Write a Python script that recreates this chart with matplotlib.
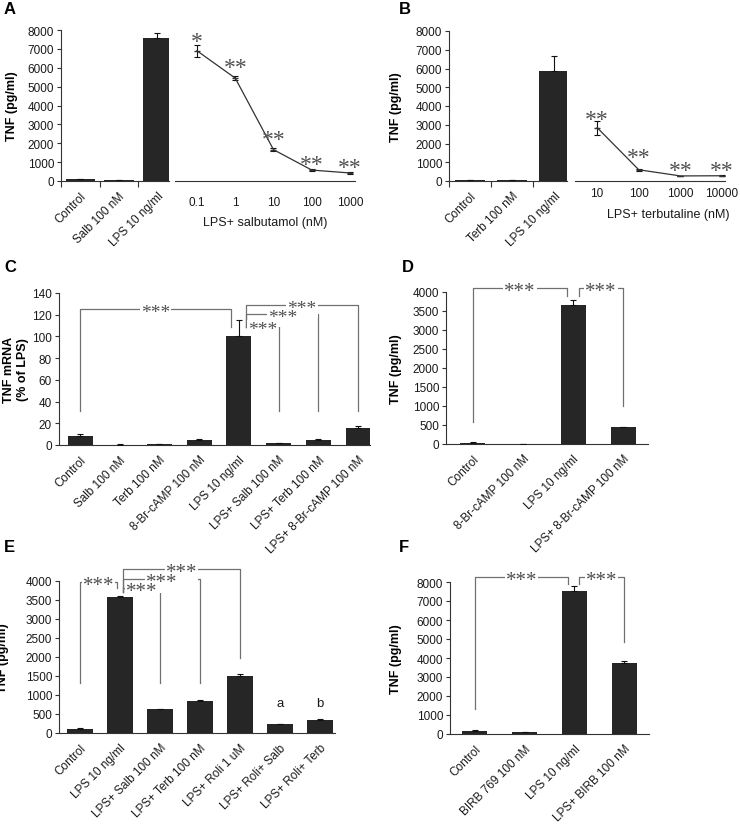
import numpy as np
import matplotlib
matplotlib.use("Agg")
import matplotlib.pyplot as plt

plt.rcParams['font.family'] = ['Liberation Sans', 'DejaVu Sans']
plt.rcParams['font.size'] = 8.5

# ---- panel A ----
a_bar_labels = ["Control", "Salb 100 nM", "LPS 10 ng/ml"]
a_bar_vals = [80, 50, 7550]
a_bar_err = [10, 5, 280]
a_conc = [0.1, 1, 10, 100, 1000]
a_line_vals = [6900, 5450, 1660, 580, 424]
a_line_err = [330, 120, 80, 40, 30]
a_stars = ["*", "**", "**", "**", "**"]
a_star_y = [7600, 6200, 2400, 1060, 900]

# ---- panel B ----
b_bar_labels = ["Control", "Terb 100 nM", "LPS 10 ng/ml"]
b_bar_vals = [70, 40, 5850]
b_bar_err = [10, 5, 800]
b_conc = [10, 100, 1000, 10000]
b_line_vals = [2850, 600, 270, 280]
b_line_err = [370, 40, 20, 20]
b_stars = ["**", "**", "**", "**"]
b_star_y = [3470, 1440, 750, 750]

# ---- panel C ----
c_labels = ["Control", "Salb 100 nM", "Terb 100 nM", "8-Br-cAMP 100 nM",
            "LPS 10 ng/ml", "LPS+ Salb 100 nM", "LPS+ Terb 100 nM",
            "LPS+ 8-Br-cAMP 100 nM"]
c_vals = [8, 0.3, 0.5, 4.5, 100, 1.5, 4.5, 15.5]
c_err = [2.2, 0.2, 0.2, 0.6, 15, 0.3, 0.7, 1.8]
# (x1, y1 bottom, x2, y2 bottom, y top)
c_brackets = [(0, 31, 3.8, 108.7, 125), (4.18, 108.7, 7.0, 31, 129),
              (4.18, 108.7, 6.0, 31, 120.7), (4.18, 108.7, 5.0, 31, 109.6)]

# ---- panel D ----
d_labels = ["Control", "8-Br-cAMP 100 nM", "LPS 10 ng/ml", "LPS+ 8-Br-cAMP 100 nM"]
d_vals = [30, 5, 3650, 440]
d_err = [10, 2, 130, 20]
d_brackets = [(0, 580, 1.87, 3895, 4105), (2.11, 3895, 3.0, 1000, 4105)]

# ---- panel E ----
e_labels = ["Control", "LPS 10 ng/ml", "LPS+ Salb 100 nM", "LPS+ Terb 100 nM",
            "LPS+ Roli 1 uM", "LPS+ Roli+ Salb", "LPS+ Roli+ Terb"]
e_vals = [110, 3580, 620, 840, 1490, 230, 340]
e_err = [10, 20, 15, 30, 60, 20, 30]
e_letters = ["", "", "", "", "", "a", "b"]
e_brackets = [(0, 1316, 0.925, 3816, 3974), (1.075, 3711, 4.0, 1974, 4316),
              (1.075, 3711, 3.0, 1316, 4053), (1.075, 3711, 2.0, 1316, 3816)]

# ---- panel F ----
f_labels = ["Control", "BIRB 769 100 nM", "LPS 10 ng/ml", "LPS+ BIRB 100 nM"]
f_vals = [180, 100, 7550, 3750]
f_err = [15, 10, 230, 100]
f_brackets = [(0, 1316, 1.87, 7895, 8263), (2.09, 7895, 3.0, 4842, 8263)]

W, H = 740, 829
BAR = '#262626'
LINE_GRAY = '#707070'
STAR_GRAY = '#505050'
fig = plt.figure(figsize=(W / 100, H / 100), dpi=100)


def px_axes(x0, x1, ytop, ybot):
    return fig.add_axes([x0 / W, 1 - ybot / H, (x1 - x0) / W, (ybot - ytop) / H])


def style(ax, left=True):
    for s in ['top', 'right']:
        ax.spines[s].set_visible(False)
    ax.spines['bottom'].set_color('#333333')
    ax.spines['left'].set_color('#333333')
    ax.spines['left'].set_visible(left)
    ax.tick_params(axis='y', direction='out', length=3, width=0.8,
                   colors='#333333', labelcolor='#1a1a1a', pad=2)


def bar_panel(ax, labels, vals, err, xlim, ylim, yticks, width, ylabel, ylab_x,
              boundary_ticks=False):
    x = np.arange(len(labels))
    ax.bar(x, vals, width=width, color=BAR, zorder=6)
    ax.errorbar(x, vals, yerr=[np.zeros(len(err)), err], fmt='none',
                ecolor='#111111', elinewidth=0.8, capsize=2.5, capthick=0.8, zorder=7)
    ax.set_xlim(*xlim)
    ax.set_ylim(*ylim)
    ax.set_yticks(yticks)
    style(ax)
    ax.set_xticks(x)
    ax.set_xticklabels(labels, rotation=45, ha='right', rotation_mode='anchor',
                       color='#1a1a1a')
    ax.tick_params(axis='x', length=0, pad=6)
    if boundary_ticks:
        ax.set_xticks(x - 0.5, minor=True)
        ax.tick_params(axis='x', which='minor', length=4, width=0.8,
                       colors='#333333', direction='out')
    ax.set_ylabel(ylabel, fontweight='bold', fontsize=9)
    ax.yaxis.set_label_coords(ylab_x, 0.5)


def line_panel(ax, conc, vals, err, stars, star_y, xlim, xlabel, lab_xy, pad):
    ax.errorbar(conc, vals, yerr=err, color='#333333', lw=0.9, marker='_',
                ms=5, ecolor='#111111', elinewidth=0.8, capsize=2.5, capthick=0.8)
    ax.set_xscale('log')
    ax.set_xlim(*xlim)
    ax.set_ylim(0, 8000)
    for s in ['top', 'right', 'left']:
        ax.spines[s].set_visible(False)
    ax.spines['bottom'].set_color('#333333')
    ax.set_yticks([])
    ax.set_xticks(conc)
    ax.set_xticklabels([f"{c:g}" for c in conc], color='#1a1a1a')
    ax.xaxis.set_minor_locator(matplotlib.ticker.NullLocator())
    ax.tick_params(axis='x', length=0, pad=pad)
    ax.set_xlabel(xlabel, color='#1a1a1a', fontsize=9)
    ax.xaxis.set_label_coords(*lab_xy)
    for c, s, y in zip(conc, stars, star_y):
        ax.annotate(s, (c, y), xytext=(0, -2.5), textcoords='offset points',
                    ha='center', va='center', fontsize=17, color=STAR_GRAY,
                    family='Liberation Serif', annotation_clip=False)


def brackets(ax, items, fs=15):
    for x1, b1, x2, b2, top in items:
        ax.plot([x1, x1, x2, x2], [b1, top, top, b2], color=LINE_GRAY, lw=0.9,
                clip_on=False, zorder=3)
        ax.annotate("***", ((x1 + x2) / 2, top), xytext=(0, -2.5),
                    textcoords='offset points', ha='center', va='center',
                    fontsize=fs, color=STAR_GRAY, family='Liberation Serif',
                    annotation_clip=False, zorder=5,
                    bbox=dict(boxstyle='square,pad=0.05', fc='white', ec='none'))


# A
axA = px_axes(61, 169, 31, 182)
bar_panel(axA, a_bar_labels, a_bar_vals, a_bar_err, (-0.5, 2.3), (0, 8000),
          range(0, 8001, 1000), 0.76, "TNF (pg/ml)", -0.40, boundary_ticks=True)
axA2 = px_axes(175, 355, 31, 182)
line_panel(axA2, a_conc, a_line_vals, a_line_err, a_stars, a_star_y,
           (10 ** -1.574, 10 ** 3.13), "LPS+ salbutamol (nM)", (0.5, -0.23), 11)

# B
axB = px_axes(449, 567, 32, 182)
bar_panel(axB, b_bar_labels, b_bar_vals, b_bar_err, (-0.5, 2.3), (0, 8000),
          range(0, 8001, 1000), 0.72, "TNF (pg/ml)", -0.40, boundary_ticks=True)
axB2 = px_axes(575, 725, 32, 182)
line_panel(axB2, b_conc, b_line_vals, b_line_err, b_stars, b_star_y,
           (10 ** 0.47, 10 ** 4.07), "LPS+ terbutaline (nM)", (0.62, -0.18), 4)

# C
axC = px_axes(59, 370, 294, 446)
bar_panel(axC, c_labels, c_vals, c_err, (-0.53, 7.3), (0, 140),
          range(0, 141, 20), 0.63, "TNF mRNA\n(% of LPS)", -0.098)
brackets(axC, c_brackets, fs=14)

# D
axD = px_axes(446, 648, 293, 445)
bar_panel(axD, d_labels, d_vals, d_err, (-0.54, 3.5), (0, 4000),
          range(0, 4001, 500), 0.5, "TNF (pg/ml)", -0.218)
brackets(axD, d_brackets)

# E
axE = px_axes(59, 335, 582, 734)
bar_panel(axE, e_labels, e_vals, e_err, (-0.525, 6.375), (0, 4000),
          range(0, 4001, 500), 0.65, "TNF (pg/ml)", -0.18)
brackets(axE, e_brackets)
for i, t in enumerate(e_letters):
    if t:
        axE.text(i, 790, t, ha='center', va='center', fontsize=9.5, color='#1a1a1a')

# F
axF = px_axes(450, 649, 583, 735)
bar_panel(axF, f_labels, f_vals, f_err, (-0.5, 3.5), (0, 8000),
          range(0, 8001, 1000), 0.5, "TNF (pg/ml)", -0.241)
brackets(axF, f_brackets)

for letter, (x, y) in zip("ABCDEF", [(4, 10), (399, 10), (4, 268), (402, 268),
                                      (4, 548), (399, 548)]):
    fig.text(x / W, 1 - y / H, letter, fontsize=12, fontweight='bold',
             ha='left', va='center')

fig.savefig("out.png", dpi=100)
